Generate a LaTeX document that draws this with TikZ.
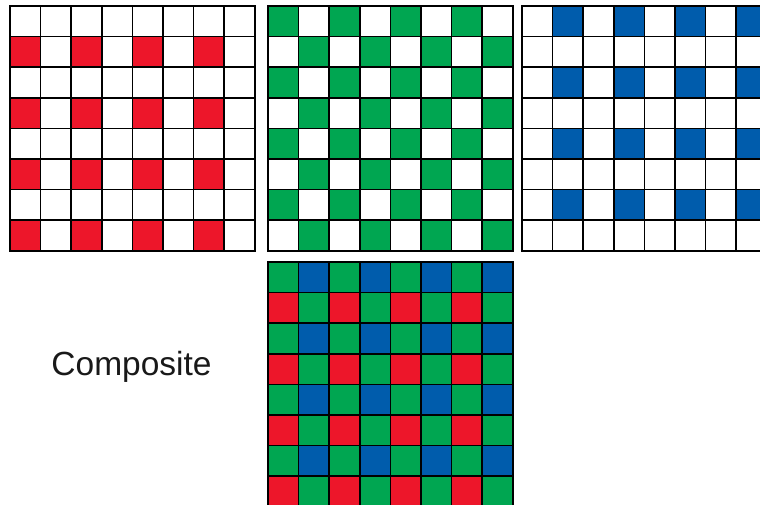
\documentclass[tikz,border=0pt]{standalone}
\usepackage{fontspec}
\setmainfont{Liberation Sans}
\usetikzlibrary{positioning}

\definecolor{bayerred}{RGB}{237,22,42}
\definecolor{bayergreen}{RGB}{0,166,81}
\definecolor{bayerblue}{RGB}{0,92,172}
\newcommand{\cellsize}{30.6}

\begin{document}
\begin{tikzpicture}[
    x=1pt,
    y=-1pt,
    gridline/.style={
        draw=black,
        line width=1.6pt,
        line cap=rect
    },
    caption/.style={
        font=\fontsize{33.5}{40}\selectfont,
        text=black!90
    }
]
\clip (0,0) rectangle (760,504);

% red filter: odd rows, even columns
\foreach \r in {1,3,5,7}
    \foreach \c in {0,2,4,6}
        \fill[bayerred] ({10+\c*\cellsize},{6+\r*\cellsize}) rectangle ++(\cellsize,\cellsize);

% green filter: checkerboard
\foreach \r in {0,...,7}
    \foreach \c in {0,2,4,6} {
        \pgfmathtruncatemacro\k{\c+mod(\r,2)}
        \fill[bayergreen] ({268+\k*\cellsize},{6+\r*\cellsize}) rectangle ++(\cellsize,\cellsize);
    }

% blue filter: even rows, odd columns
\foreach \r in {0,2,4,6}
    \foreach \c in {1,3,5,7}
        \fill[bayerblue] ({522+\c*\cellsize},{6+\r*\cellsize}) rectangle ++(\cellsize,\cellsize);

% composite mosaic
\foreach \r in {0,...,7}
    \foreach \c in {0,...,7} {
        \pgfmathtruncatemacro\rodd{mod(\r,2)}
        \pgfmathtruncatemacro\codd{mod(\c,2)}
        \ifnum\rodd=\codd
            \def\tint{bayergreen}
        \else
            \ifnum\rodd=1 \def\tint{bayerred}\else \def\tint{bayerblue}\fi
        \fi
        \fill[\tint] ({268+\c*\cellsize},{262+\r*\cellsize}) rectangle ++(\cellsize,\cellsize);
    }

% grid lines of the four arrays
\foreach \gx/\gy in {10/6, 268/6, 522/6, 268/262}
    \foreach \i in {0,...,8} {
        \draw[gridline] ({\gx+\i*\cellsize},\gy) -- ++(0,{8*\cellsize});
        \draw[gridline] (\gx,{\gy+\i*\cellsize}) -- ++({8*\cellsize},0);
    }

\node[caption] (composite) at (131.5,367) {Composite};

\end{tikzpicture}
\end{document}
